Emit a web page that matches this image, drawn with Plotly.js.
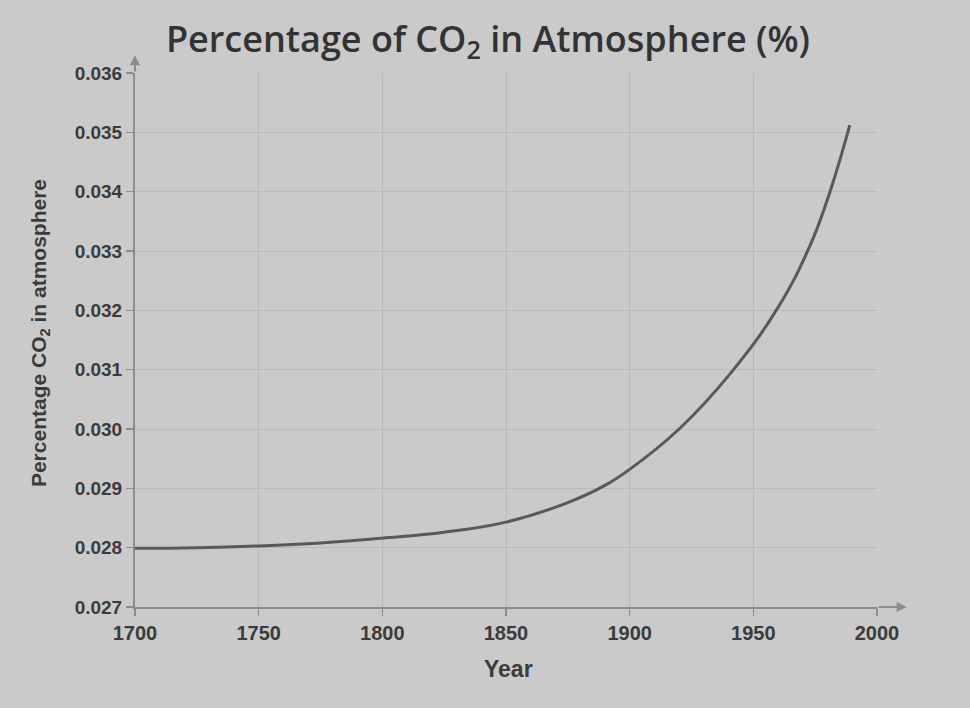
<!DOCTYPE html>
<html>
<head>
<meta charset="utf-8">
<script src="https://cdn.plot.ly/plotly-3.0.1.min.js"></script>
<style>html,body{margin:0;padding:0;background:#cacaca;}#chart{width:970px;height:708px;}</style>
</head>
<body>
<div id="chart"></div>
<script>
// Data
const years = [1700, 1725, 1750, 1775, 1800, 1825, 1850, 1875, 1890, 1900, 1920, 1941, 1960, 1973, 1981, 1989];
const co2Percent = [0.02799, 0.02800, 0.02803, 0.02808, 0.02816, 0.02826, 0.02843, 0.02876, 0.02905, 0.02932, 0.03000, 0.03095, 0.03205, 0.03310, 0.03400, 0.03512];
const xTicks = [1700, 1750, 1800, 1850, 1900, 1950, 2000];
const yTicks = [0.027, 0.028, 0.029, 0.030, 0.031, 0.032, 0.033, 0.034, 0.035, 0.036];

const textColor = '#3b3b3b';
const gridColor = '#b9b9b9';
const axisColor = '#8c8c8c';

const trace = {
  x: years,
  y: co2Percent,
  type: 'scatter',
  mode: 'lines',
  line: {color: '#595959', width: 3, shape: 'spline', smoothing: 1.2},
  hoverinfo: 'x+y'
};

const layout = {
  width: 970,
  height: 708,
  paper_bgcolor: '#cacaca',
  plot_bgcolor: '#cacaca',
  showlegend: false,
  margin: {l: 135, r: 93, t: 73, b: 101},
  title: {
    text: 'Percentage of CO<sub>2</sub> in Atmosphere (%)',
    font: {family: 'Open Sans, sans-serif', size: 36, color: '#333333', weight: 600},
    x: 0.503, xanchor: 'center', y: 0.945, yanchor: 'middle'
  },
  xaxis: {
    range: [1700, 2000],
    tickvals: xTicks,
    ticktext: xTicks.map(String),
    ticks: 'outside', ticklen: 7, tickcolor: axisColor, tickwidth: 1.5,
    tickfont: {family: 'Liberation Sans, Arial, sans-serif', size: 20, color: textColor, weight: 'bold'},
    showgrid: true, gridcolor: gridColor, gridwidth: 1,
    showline: true, linecolor: axisColor, linewidth: 2,
    zeroline: false, automargin: false
  },
  yaxis: {
    range: [0.027, 0.036],
    tickvals: yTicks,
    ticktext: yTicks.map(v => v.toFixed(3)),
    ticks: 'outside', ticklen: 7, tickcolor: axisColor, tickwidth: 1.5,
    tickfont: {family: 'Liberation Sans, Arial, sans-serif', size: 19, color: textColor, weight: 'bold'},
    showgrid: true, gridcolor: gridColor, gridwidth: 1,
    showline: true, linecolor: axisColor, linewidth: 2,
    zeroline: false, automargin: false
  },
  annotations: [
    {
      xref: 'paper', yref: 'paper', x: -0.128, y: 0.513,
      text: 'Percentage CO<sub>2</sub> in atmosphere', textangle: -90, showarrow: false,
      font: {family: 'Liberation Sans, Arial, sans-serif', size: 21, color: textColor, weight: 'bold'},
      xanchor: 'center', yanchor: 'middle'
    },
    {
      xref: 'paper', yref: 'paper', x: 0.503, y: -0.116,
      text: 'Year', showarrow: false,
      font: {family: 'Liberation Sans, Arial, sans-serif', size: 23, color: textColor, weight: 'bold'},
      xanchor: 'center', yanchor: 'middle'
    },
    {
      xref: 'x', yref: 'y', axref: 'x', ayref: 'y',
      x: 2012, y: 0.027, ax: 2000, ay: 0.027, text: '',
      showarrow: true, arrowhead: 2, arrowsize: 1, arrowwidth: 2, arrowcolor: axisColor
    },
    {
      xref: 'x', yref: 'y', axref: 'x', ayref: 'y',
      x: 1700, y: 0.0363, ax: 1700, ay: 0.036, text: '',
      showarrow: true, arrowhead: 2, arrowsize: 1, arrowwidth: 2, arrowcolor: axisColor
    }
  ]
};

Plotly.newPlot('chart', [trace], layout, {displayModeBar: false, staticPlot: true});
</script>
</body>
</html>
